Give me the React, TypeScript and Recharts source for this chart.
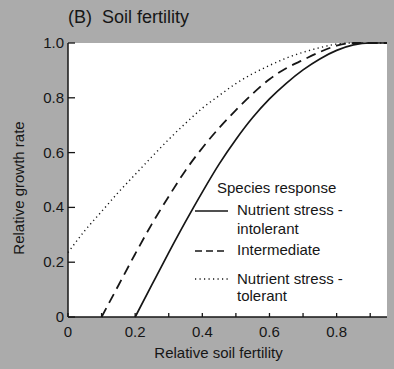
import React from "react";
import {
	LineChart,
	Line,
	XAxis,
	YAxis,
	CartesianGrid,
	Legend,
} from "recharts";

const FONT = "'Liberation Sans', Arial, Helvetica, sans-serif";
const INK = "#161616";
const PAGE_BG = "#ababab";

// relative soil fertility (x)
const fertility = [
	0, 0.05, 0.1, 0.15, 0.2, 0.25, 0.3, 0.35, 0.4, 0.45, 0.5, 0.55, 0.6, 0.65,
	0.7, 0.75, 0.8, 0.85, 0.9, 0.95,
];
// relative growth rate per species response
const intolerant = [
	null, null, null, null, 0, 0.118, 0.235, 0.348, 0.456, 0.558, 0.648, 0.728,
	0.796, 0.853, 0.902, 0.942, 0.973, 0.993, 1.0, 1.0,
];
const intermediate = [
	null, null, 0, 0.115, 0.23, 0.34, 0.44, 0.535, 0.617, 0.69, 0.755, 0.815,
	0.868, 0.908, 0.938, 0.967, 0.99, 1.0, 1.0, 1.0,
];
const tolerant = [
	0.235, 0.315, 0.385, 0.455, 0.52, 0.585, 0.648, 0.707, 0.762, 0.808, 0.852,
	0.888, 0.918, 0.945, 0.966, 0.983, 0.996, 1.0, 1.0, 1.0,
];

const xTicks = [0, 0.1, 0.2, 0.3, 0.4, 0.5, 0.6, 0.7, 0.8, 0.9];
const yTicks = [0, 0.2, 0.4, 0.6, 0.8, 1.0];

const data = fertility.map((f, i) => ({
	fertility: f,
	intolerant: intolerant[i],
	intermediate: intermediate[i],
	tolerant: tolerant[i],
}));

const fmt = (v: number) => (v === 0 ? "0" : v.toFixed(1));

function XTick({ x, y, payload }: any) {
	const v = payload.value;
	const major = Math.round(v * 10) % 2 === 0;
	return (
		<g>
			<line x1={x} y1={y} x2={x} y2={y - 4} stroke={INK} strokeWidth={1.3} />
			{major && (
				<text
					x={x}
					y={y + 20}
					textAnchor='middle'
					fontSize={15}
					fontFamily={FONT}
					fill={INK}>
					{fmt(v)}
				</text>
			)}
		</g>
	);
}

function YTick({ x, y, payload }: any) {
	return (
		<g>
			<line x1={x} y1={y} x2={x + 7} y2={y} stroke={INK} strokeWidth={1.3} />
			<text
				x={x - 4}
				y={y + 5}
				textAnchor='end'
				fontSize={15}
				fontFamily={FONT}
				fill={INK}>
				{fmt(payload.value)}
			</text>
		</g>
	);
}

function LegendBox() {
	const row = (top: number, left: number, text: string) => (
		<div style={{ position: "absolute", top, left, whiteSpace: "nowrap" }}>
			{text}
		</div>
	);
	const sample = (top: number, dash?: string, w = 1.6) => (
		<svg
			width={34}
			height={6}
			style={{ position: "absolute", left: 0, top: top - 3 }}>
			<line
				x1={0}
				y1={3}
				x2={33}
				y2={3}
				stroke={INK}
				strokeWidth={w}
				strokeDasharray={dash}
			/>
		</svg>
	);
	return (
		<div
			style={{
				position: "relative",
				width: 180,
				height: 130,
				fontFamily: FONT,
				fontSize: 15,
				lineHeight: "17px",
				color: INK,
			}}>
			{row(0, 22, "Species response")}
			{sample(32)}
			{row(22, 42, "Nutrient stress -")}
			{row(41, 42, "intolerant")}
			{sample(72, "7 4")}
			{row(62, 42, "Intermediate")}
			{sample(100, "1.2 3.3", 1.4)}
			{row(91, 42, "Nutrient stress -")}
			{row(108, 42, "tolerant")}
		</div>
	);
}

export default function App() {
	return (
		<div
			style={{
				position: "absolute",
				left: 0,
				top: 0,
				width: 394,
				height: 369,
				background: PAGE_BG,
				fontFamily: FONT,
				color: INK,
			}}>
			<div
				style={{
					position: "absolute",
					left: 68,
					top: 7,
					fontSize: 18,
					whiteSpace: "pre",
				}}>
				{"(B)  Soil fertility"}
			</div>
			<LineChart
				width={394}
				height={369}
				data={data}
				margin={{ top: 43, right: 7, bottom: 0, left: 0 }}>
				<CartesianGrid fill='#ffffff' horizontal={false} vertical={false} />
				<XAxis
					dataKey='fertility'
					type='number'
					domain={[0, 0.95]}
					ticks={xTicks}
					interval={0}
					height={52}
					tickSize={0}
					tickMargin={0}
					tick={<XTick />}
					axisLine={{ stroke: INK, strokeWidth: 1.5 }}
					label={{
						content: ({ viewBox }: any) => (
							<text
								x={viewBox.x + viewBox.width / 2 - 9}
								y={viewBox.y + 41}
								textAnchor='middle'
								fontSize={15}
								fontFamily={FONT}
								fill={INK}>
								Relative soil fertility
							</text>
						),
					}}
				/>
				<XAxis
					xAxisId='top'
					orientation='top'
					dataKey='fertility'
					type='number'
					domain={[0, 0.95]}
					height={0}
					tick={false}
					tickLine={false}
					axisLine={{ stroke: INK, strokeWidth: 1.5 }}
				/>
				<YAxis
					type='number'
					domain={[0, 1]}
					ticks={yTicks}
					interval={0}
					width={68}
					tickSize={0}
					tickMargin={0}
					tick={<YTick />}
					axisLine={{ stroke: INK, strokeWidth: 1.5 }}
					label={{
						content: ({ viewBox }: any) => {
							const cx = viewBox.x + 24;
							const cy = viewBox.y + viewBox.height / 2 + 8;
							return (
								<text
									x={cx}
									y={cy}
									transform={`rotate(-90, ${cx}, ${cy})`}
									textAnchor='middle'
									fontSize={15}
									fontFamily={FONT}
									fill={INK}>
									Relative growth rate
								</text>
							);
						},
					}}
				/>
				<YAxis
					yAxisId='right'
					orientation='right'
					type='number'
					domain={[0, 1]}
					width={0}
					tick={false}
					tickLine={false}
					axisLine={{ stroke: INK, strokeWidth: 1.5 }}
				/>
				<Legend
					layout='horizontal'
					verticalAlign='middle'
					align='center'
					wrapperStyle={{ position: "absolute", left: 195, top: 179, width: 180 }}
					content={() => <LegendBox />}
				/>
				<Line
					type='monotone'
					dataKey='tolerant'
					name='Nutrient stress - tolerant'
					stroke={INK}
					strokeWidth={1.4}
					strokeDasharray='1.2 3.3'
					dot={false}
					isAnimationActive={false}
				/>
				<Line
					type='monotone'
					dataKey='intermediate'
					name='Intermediate'
					stroke={INK}
					strokeWidth={1.8}
					strokeDasharray='10 6'
					dot={false}
					isAnimationActive={false}
				/>
				<Line
					type='monotone'
					dataKey='intolerant'
					name='Nutrient stress - intolerant'
					stroke={INK}
					strokeWidth={1.7}
					dot={false}
					isAnimationActive={false}
				/>
			</LineChart>
		</div>
	);
}
